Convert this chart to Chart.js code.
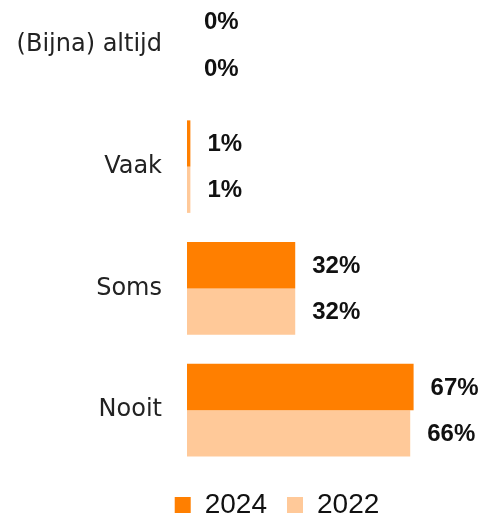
<!DOCTYPE html>
<html>
<head>
<meta charset="utf-8">
<script src="https://cdn.jsdelivr.net/npm/chart.js@4/dist/chart.umd.min.js"></script>
<style>
    html, body { margin: 0; padding: 0; background: #ffffff; overflow: hidden; }
    body { width: 488px; height: 517px; position: relative; }
    /* canvas iets hoger dan de pagina: bovenste band valt deels buiten beeld */
    #wrap { position: absolute; left: 0; top: -16px; width: 488px; height: 545px; }
</style>
</head>
<body>
<div id="wrap"><canvas id="freqChart"></canvas></div>
<script>
const categories = ['(Bijna) altijd', 'Vaak', 'Soms', 'Nooit'];
const seriesNames = ['2024', '2022'];
const values2024 = [0, 1, 32, 67];
const values2022 = [0, 1, 32, 66];

const colors = {
    y2024: '#FF7F00',
    y2022: '#FFC999'
};

// labels achter de balken (geen datalabels plugin beschikbaar)
const barLabels = {
    id: 'barLabels',
    afterDatasetsDraw(chart) {
        const ctx = chart.ctx;
        ctx.save();
        ctx.font = 'bold 24px "Liberation Sans", Arial, sans-serif';
        ctx.fillStyle = '#111111';
        ctx.textAlign = 'left';
        ctx.textBaseline = 'middle';
        chart.data.datasets.forEach((ds, i) => {
            const meta = chart.getDatasetMeta(i);
            meta.data.forEach((bar, j) => {
                ctx.fillText(ds.data[j] + '%', bar.x + 17, bar.y + 1);
            });
        });
        ctx.restore();
    }
};

// legenda staat in het origineel iets rechts van het midden
const legendShift = {
    id: 'legendShift',
    afterLayout(chart) {
        if (chart.legend) {
            chart.legend.left += 33;
            chart.legend.right += 33;
        }
    }
};

const ctx = document.getElementById('freqChart').getContext('2d');
new Chart(ctx, {
    type: 'bar',
    data: {
        labels: categories,
        datasets: [
            {
                label: seriesNames[0],
                data: values2024,
                backgroundColor: colors.y2024,
                barPercentage: 1,
                categoryPercentage: 0.76
            },
            {
                label: seriesNames[1],
                data: values2022,
                backgroundColor: colors.y2022,
                barPercentage: 1,
                categoryPercentage: 0.76
            }
        ]
    },
    options: {
        indexAxis: 'y',
        responsive: true,
        maintainAspectRatio: false,
        animation: false,
        layout: {
            padding: 0
        },
        plugins: {
            legend: {
                position: 'bottom',
                labels: {
                    boxWidth: 16,
                    boxHeight: 16,
                    padding: 20,
                    color: '#111111',
                    font: { family: '"Liberation Sans", Arial, sans-serif', size: 28 }
                }
            },
            tooltip: { enabled: false }
        },
        scales: {
            x: {
                display: false,
                min: 0,
                max: 89
            },
            y: {
                grid: { display: false, drawTicks: false },
                border: { display: false },
                ticks: {
                    padding: 25,
                    color: '#222222',
                    font: { family: '"DejaVu Sans", sans-serif', size: 24 }
                },
                afterFit(scale) {
                    scale.width = 187;
                    // geen extra ruimte boven/onder voor de labels
                    scale.paddingTop = 0;
                    scale.paddingBottom = 0;
                }
            }
        }
    },
    plugins: [barLabels, legendShift]
});
</script>
</body>
</html>
